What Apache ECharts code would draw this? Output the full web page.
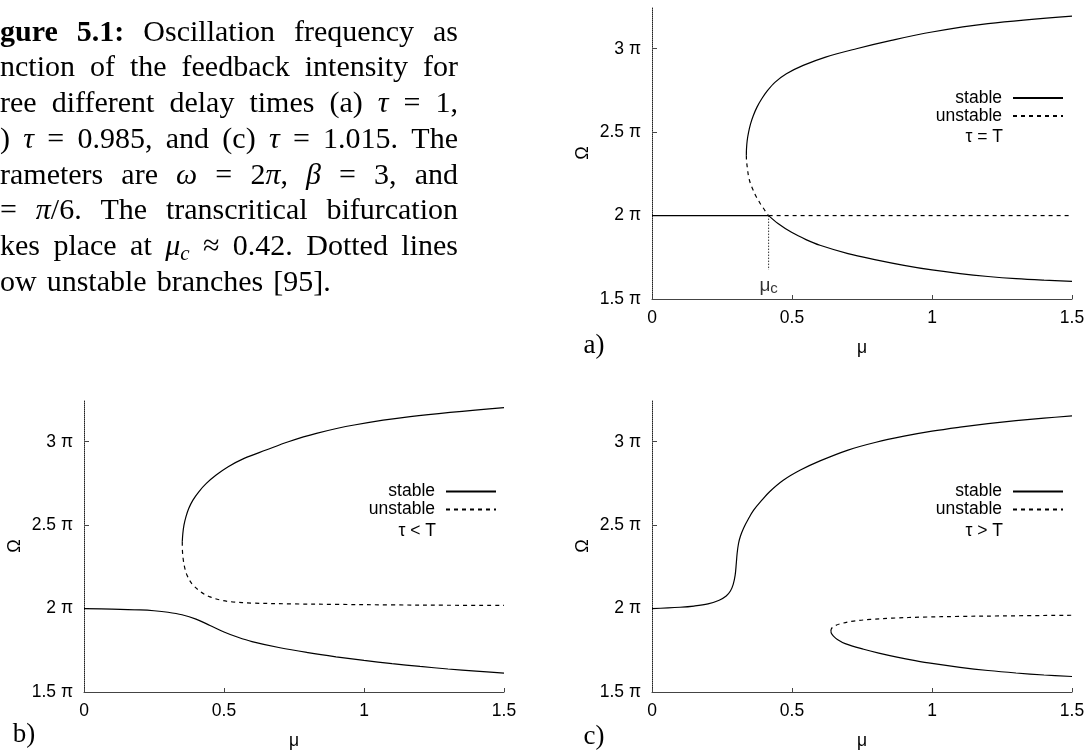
<!DOCTYPE html>
<html><head><meta charset="utf-8">
<script src="https://cdn.jsdelivr.net/npm/echarts@6/dist/echarts.min.js"></script>
<style>html,body{margin:0;padding:0;background:#fff}#c{width:1090px;height:753px}</style>
</head><body><div id="c"></div>
<script>
// ---------- data (Omega in units of pi, mu) ----------
const xTicks = [0, 0.5, 1, 1.5];
const yTicks = [1.5, 2, 2.5, 3];
const legendNames = ['stable', 'unstable'];
const panelLabels = ['a)', 'b)', 'c)'];
const tauLabels = ['τ = T', 'τ < T', 'τ > T'];
const muC = 0.4165;

// panel a (tau = T)
const aFlatStable = [[0, 2], [0.4165, 2]];
const aFlatUnstable = [[0.4165, 2], [1.5, 2]];
const aUpperStable = [[0.337, 2.361], [0.3375, 2.40], [0.340, 2.45], [0.345, 2.5], [0.352, 2.55], [0.362, 2.6], [0.375, 2.65], [0.392, 2.7], [0.413, 2.75], [0.44, 2.8], [0.48, 2.85], [0.54, 2.9], [0.62, 2.95], [0.73, 3.0], [0.855, 3.05], [1.0, 3.1], [1.2, 3.15], [1.5, 3.195]];
const aUpperUnstable = [[0.337, 2.361], [0.3375, 2.33], [0.341, 2.28], [0.345, 2.233], [0.352, 2.19], [0.361, 2.154], [0.37, 2.12], [0.379, 2.094], [0.389, 2.065], [0.398, 2.044], [0.407, 2.02], [0.4165, 2.0]];
const aLowerStable = [[0.4165, 2.0], [0.45, 1.953], [0.5, 1.898], [0.55, 1.856], [0.6, 1.822], [0.7, 1.772], [0.8, 1.735], [0.9, 1.702], [1.0, 1.674], [1.1, 1.652], [1.2, 1.635], [1.3, 1.622], [1.4, 1.613], [1.5, 1.606]];
const aMuCLine = [[0.4165, 2.0], [0.4165, 1.675]];

// panel b (tau < T)
const bLowerStable = [[0, 2.0], [0.1, 1.997], [0.2, 1.992], [0.25, 1.987], [0.3, 1.978], [0.35, 1.963], [0.4, 1.937], [0.45, 1.899], [0.5, 1.86], [0.55, 1.828], [0.6, 1.802], [0.7, 1.765], [0.8, 1.736], [0.9, 1.711], [1.0, 1.689], [1.1, 1.67], [1.2, 1.653], [1.3, 1.638], [1.4, 1.625], [1.5, 1.613]];
const bUpperStable = [[0.351, 2.40], [0.353, 2.45], [0.357, 2.5], [0.364, 2.55], [0.374, 2.6], [0.389, 2.65], [0.41, 2.7], [0.437, 2.75], [0.472, 2.8], [0.515, 2.85], [0.572, 2.9], [0.65, 2.95], [0.73, 3.0], [0.83, 3.05], [0.965, 3.1], [1.165, 3.15], [1.5, 3.204]];
const bUpperUnstable = [[0.351, 2.40], [0.3515, 2.35], [0.354, 2.3], [0.359, 2.25], [0.368, 2.2], [0.385, 2.15], [0.417, 2.1], [0.45, 2.07], [0.49, 2.05], [0.53, 2.04], [0.6, 2.033], [0.75, 2.028], [0.9, 2.025], [1.1, 2.022], [1.3, 2.02], [1.5, 2.019]];

// panel c (tau > T)
const cUpperStable = [[0, 2.0], [0.1, 2.008], [0.15, 2.015], [0.2, 2.028], [0.24, 2.05], [0.265, 2.075], [0.28, 2.105], [0.29, 2.145], [0.297, 2.2], [0.301, 2.27], [0.304, 2.33], [0.309, 2.39], [0.316, 2.435], [0.327, 2.482], [0.345, 2.54], [0.363, 2.59], [0.39, 2.645], [0.42, 2.7], [0.47, 2.77], [0.53, 2.83], [0.6, 2.885], [0.7, 2.95], [0.8, 2.997], [0.9, 3.033], [1.0, 3.063], [1.1, 3.087], [1.2, 3.108], [1.3, 3.126], [1.4, 3.141], [1.5, 3.155]];
const cLowerUnstable = [[0.639, 1.865], [0.641, 1.88], [0.651, 1.895], [0.675, 1.91], [0.72, 1.925], [0.78, 1.935], [0.86, 1.943], [0.97, 1.949], [1.1, 1.953], [1.25, 1.956], [1.5, 1.96]];
const cLowerStable = [[0.639, 1.865], [0.641, 1.85], [0.648, 1.835], [0.662, 1.815], [0.69, 1.79], [0.756, 1.756], [0.81, 1.733], [0.875, 1.709], [0.94, 1.688], [1.0, 1.671], [1.1, 1.648], [1.2, 1.629], [1.3, 1.614], [1.4, 1.602], [1.5, 1.593]];

// caption text (visible part; left side of the page is cropped)
const captionLines = [
  '!gure !5.1: Oscillation frequency as',
  'nction of the feedback intensity for',
  'ree different delay times (a) τ = 1,',
  ') τ = 0.985, and (c) τ = 1.015. The',
  'rameters are ω = 2π, β = 3, and',
  '= π/6. The transcritical bifurcation',
  'kes place at μ_c ≈ 0.42. Dotted lines',
  'ow unstable branches [95].'
];
const captionJustify = [true, true, true, true, true, true, true, false];

// ---------- layout ----------
const SANS = 'Liberation Sans';
const SERIF = 'Liberation Serif';
const FS = 17.5;
const DASH = [4, 4];
const grids = [
  {left: 652, top: 7, width: 420, height: 292},
  {left: 84, top: 400, width: 420, height: 292},
  {left: 652, top: 400, width: 420, height: 292}
];

const chart = echarts.init(document.getElementById('c'), null, {renderer: 'canvas'});

function xAxisFor(i) {
  return {
    type: 'value', gridIndex: i, min: 0, max: 1.5, interval: 0.5,
    name: 'μ', nameLocation: 'middle', nameGap: 40,
    nameTextStyle: {fontFamily: SANS, fontSize: FS, color: '#000'},
    axisLine: {show: true, lineStyle: {color: '#444', width: 1}},
    axisTick: {show: true, inside: true, length: 4, lineStyle: {color: '#444'}, customValues: xTicks},
    axisLabel: {fontFamily: SANS, fontSize: FS, color: '#000', margin: 10, customValues: xTicks},
    splitLine: {show: false}
  };
}
function yAxisFor(i) {
  return {
    type: 'value', gridIndex: i, min: 1.5, max: 3.25,
    name: 'Ω', nameLocation: 'middle', nameGap: 60,
    nameTextStyle: {fontFamily: SANS, fontSize: 18, color: '#000'},
    axisLine: {show: true, lineStyle: {color: '#222', width: 1, type: [1, 1]}},
    axisTick: {show: true, inside: true, length: 5, lineStyle: {color: '#444'}, customValues: yTicks},
    axisLabel: {fontFamily: SANS, fontSize: FS, color: '#000', margin: 11, customValues: yTicks,
      formatter: v => v + ' π'},
    splitLine: {show: false}
  };
}
function ser(name, i, data, dashed, extra) {
  return Object.assign({
    type: 'line', name: name, xAxisIndex: i, yAxisIndex: i, data: data,
    symbol: 'none', showSymbol: false, smooth: 0.35, silent: true, animation: false,
    lineStyle: {color: '#000', width: 1.2, type: dashed ? DASH : 'solid'},
    itemStyle: {color: '#000'}
  }, extra || {});
}

const series = [
  ser('stable', 0, aFlatStable, false, {smooth: false}),
  ser('unstable', 0, aFlatUnstable, true, {smooth: false}),
  ser('stable', 0, aUpperStable, false),
  ser('unstable', 0, aUpperUnstable, true),
  ser('stable', 0, aLowerStable, false),
  {
    type: 'line', name: 'μc line', xAxisIndex: 0, yAxisIndex: 0, symbol: 'none', silent: true,
    lineStyle: {color: '#333', width: 1, type: [1.5, 1.5]},
    data: aMuCLine
  },
  {
    type: 'scatter', name: 'μc', xAxisIndex: 0, yAxisIndex: 0, silent: true,
    symbol: 'circle', symbolSize: 1, itemStyle: {color: 'rgba(0,0,0,0)'},
    data: [aMuCLine[1]],
    label: {
      show: true, position: 'bottom', distance: 6, color: '#000',
      formatter: '{m|μ}{s|c}',
      rich: {
        m: {fontFamily: SANS, fontSize: 19, color: '#000', lineHeight: 20, verticalAlign: 'top'},
        s: {fontFamily: SANS, fontSize: 15, color: '#000', lineHeight: 14, verticalAlign: 'bottom'}
      }
    }
  },
  ser('stable', 1, bLowerStable, false),
  ser('stable', 1, bUpperStable, false),
  ser('unstable', 1, bUpperUnstable, true),
  ser('stable', 2, cUpperStable, false),
  ser('unstable', 2, cLowerUnstable, true),
  ser('stable', 2, cLowerStable, false)
];

function legendFor(right, top) {
  return {
    data: legendNames, orient: 'vertical', align: 'right', right: right, top: top,
    padding: 0, itemGap: 0, itemWidth: 50, itemHeight: 10, selectedMode: false,
    itemStyle: {opacity: 0},
    textStyle: {fontFamily: SANS, fontSize: FS, color: '#000', lineHeight: 18, rich: {g: {width: 6, lineHeight: 18}}},
    formatter: n => n + '{g| }'
  };
}

// ---------- caption graphics ----------
const measureCtx = document.createElement('canvas').getContext('2d');
const CAP_FS = 30, SUB_FS = 21, CAP_RIGHT = 458;
const GREEK = 'τωβπμ';
function parseWord(w) {
  let bold = false;
  if (w[0] === '!') { bold = true; w = w.slice(1); }
  const segs = [];
  for (let k = 0; k < w.length; k++) {
    let ch = w[k], kind;
    if (ch === '_') { k++; ch = w[k]; kind = 'sub'; }
    else if (GREEK.indexOf(ch) >= 0) kind = 'it';
    else kind = bold ? 'b' : 'r';
    const last = segs[segs.length - 1];
    if (last && last.kind === kind) last.text += ch; else segs.push({text: ch, kind: kind});
  }
  return segs;
}
function segFont(s) {
  const size = s.kind === 'sub' ? SUB_FS : CAP_FS;
  return (s.kind === 'it' || s.kind === 'sub' ? 'italic ' : '') + (s.kind === 'b' ? 'bold ' : '') + size + 'px "' + SERIF + '"';
}
function segWidth(s) { measureCtx.font = segFont(s); return measureCtx.measureText(s.text).width; }

const graphics = [];
captionLines.forEach((line, li) => {
  const words = line.split(' ').map(parseWord);
  const widths = words.map(ws => ws.reduce((a, s) => a + segWidth(s), 0));
  const total = widths.reduce((a, b) => a + b, 0);
  const gap = captionJustify[li] ? (CAP_RIGHT - total) / (words.length - 1) : 10;
  const baseline = 43 + li * 35.7;
  let x = 0;
  words.forEach((ws, wi) => {
    let sx = x;
    ws.forEach(s => {
      const size = s.kind === 'sub' ? SUB_FS : CAP_FS;
      const bl = s.kind === 'sub' ? baseline + 4.5 : baseline;
      graphics.push({
        type: 'text', x: sx, y: bl - 0.3375 * size, silent: true,
        style: {text: s.text, fontFamily: SERIF, fontSize: size,
          fontWeight: s.kind === 'b' ? 'bold' : 'normal',
          fontStyle: (s.kind === 'it' || s.kind === 'sub') ? 'italic' : 'normal',
          fill: '#000', align: 'left', verticalAlign: 'middle'}
      });
      sx += segWidth(s);
    });
    x += widths[wi] + gap;
  });
});

// panel labels and tau labels
const panelLabelPos = [[594, 346], [24, 735], [594, 737]];
const tauPos = [[1003, 137], [436, 531], [1003, 531]];
panelLabels.forEach((t, i) => {
  graphics.push({type: 'text', x: panelLabelPos[i][0], y: panelLabelPos[i][1], silent: true,
    style: {text: t, fontFamily: SERIF, fontSize: 27, fill: '#000', align: 'center', verticalAlign: 'middle'}});
  graphics.push({type: 'text', x: tauPos[i][0], y: tauPos[i][1], silent: true,
    style: {text: tauLabels[i], fontFamily: SANS, fontSize: FS, fill: '#000', align: 'right', verticalAlign: 'middle'}});
});

chart.setOption({
  animation: false,
  backgroundColor: '#fff',
  grid: grids.map(g => Object.assign({show: false, containLabel: false, outerBoundsMode: 'none'}, g)),
  xAxis: [0, 1, 2].map(xAxisFor),
  yAxis: [0, 1, 2].map(yAxisFor),
  legend: [legendFor(26, 89), legendFor(593, 482.5), legendFor(26, 482.5)],
  series: series,
  graphic: graphics
});
</script></body></html>
